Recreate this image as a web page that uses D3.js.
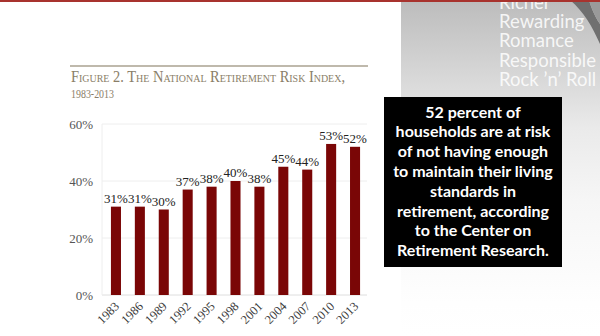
<!DOCTYPE html>
<html>
<head>
<meta charset="utf-8">
<script src="https://cdn.jsdelivr.net/npm/d3@7"></script>
<style>
  html, body { margin: 0; padding: 0; background: #fff; }
  svg { display: block; }
</style>
</head>
<body>
<svg id="slide" width="600" height="336"></svg>
<script>
// Survey years and share of households at risk (National Retirement Risk Index)
const years = ["1983", "1986", "1989", "1992", "1995", "1998", "2001", "2004", "2007", "2010", "2013"];
const riskShare = [0.31, 0.31, 0.30, 0.37, 0.38, 0.40, 0.38, 0.45, 0.44, 0.53, 0.52];
const yTicks = [0, 0.2, 0.4, 0.6];

const titleLines = ["Figure 2. The National Retirement Risk Index,", "1983-2013"];
const panelWords = ["Richer", "Rewarding", "Romance", "Responsible", "Rock \u2019n\u2019 Roll"];
const calloutLines = [
  "52 percent of",
  "households are at risk",
  "of not having enough",
  "to maintain their living",
  "standards in",
  "retirement, according",
  "to the Center on",
  "Retirement Research."
];

const svg = d3.select("#slide");
const defs = svg.append("defs");

// Grey panel on the right that fades to white
const fade = defs.append("linearGradient")
  .attr("id", "panelFade").attr("x1", 0).attr("y1", 0).attr("x2", 0).attr("y2", 1);
[[0, "#bcbcbc"], [0.2, "#d4d4d4"], [0.38, "#eaeaea"], [0.6, "#f6f6f6"], [0.9, "#fefefe"], [1, "#ffffff"]]
  .forEach(([o, c]) => fade.append("stop").attr("offset", o).attr("stop-color", c));

svg.append("rect").attr("x", 401).attr("y", 0).attr("width", 199).attr("height", 336)
  .attr("fill", "url(#panelFade)");

// Dark ribbon curling in at the top-right corner
svg.append("path")
  .attr("d", "M570,0 C584,12 592,26 600,44 L600,24 C594,15 591,7 589,0 Z")
  .attr("fill", "#707070");
svg.append("path")
  .attr("d", "M589,0 C591,7 594,15 600,24 L600,0 Z")
  .attr("fill", "#9a9a9a");

// Faint word list on the panel
svg.append("g")
  .selectAll("text")
  .data(panelWords)
  .join("text")
  .attr("x", 499)
  .attr("y", (d, i) => 8.5 + i * 19.4)
  .attr("font-family", "Lato, 'Open Sans', sans-serif")
  .attr("font-size", 18.5)
  .attr("fill", "#ffffff")
  .attr("fill-opacity", 0.85)
  .text(d => d);

// Red rule across the top edge
svg.append("rect").attr("x", 0).attr("y", 0).attr("width", 600).attr("height", 2)
  .attr("fill", "#a8332e");

// Figure heading
svg.append("line")
  .attr("x1", 70).attr("x2", 368).attr("y1", 66).attr("y2", 66)
  .attr("stroke", "#aaa290").attr("stroke-width", 1.6);

svg.append("text")
  .attr("x", 71).attr("y", 82)
  .attr("font-family", "'Liberation Serif', 'DejaVu Serif', serif")
  .attr("font-size", 16)
  .attr("textLength", 274)
  .attr("lengthAdjust", "spacingAndGlyphs")
  .style("font-variant", "small-caps")
  .attr("fill", "#8a7e68")
  .text(titleLines[0]);
svg.append("text")
  .attr("x", 71).attr("y", 97.5)
  .attr("font-family", "'Liberation Serif', 'DejaVu Serif', serif")
  .attr("font-size", 13.5)
  .attr("textLength", 43)
  .attr("lengthAdjust", "spacingAndGlyphs")
  .attr("fill", "#8a7e68")
  .text(titleLines[1]);

// Chart scales
const x = d3.scaleBand().domain(years).range([104, 367]).paddingInner(0.58).paddingOuter(0.29);
const y = d3.scaleLinear().domain([0, 0.6]).range([295, 124]);

const chart = svg.append("g");

// Gridlines
chart.append("g")
  .selectAll("line")
  .data(yTicks)
  .join("line")
  .attr("x1", 102).attr("x2", 367)
  .attr("y1", d => y(d)).attr("y2", d => y(d))
  .attr("stroke", d => d === 0 ? "#dedede" : "#eeeeee")
  .attr("stroke-width", 1);
chart.append("line")
  .attr("x1", 102).attr("x2", 102).attr("y1", y(0.6)).attr("y2", y(0))
  .attr("stroke", "#eeeeee");

// Y axis labels
const yAxis = chart.append("g")
  .attr("transform", "translate(102,0)")
  .call(d3.axisLeft(y).tickValues(yTicks).tickFormat(d3.format(".0%")).tickSize(0).tickPadding(9));
yAxis.select(".domain").remove();
yAxis.selectAll("text")
  .attr("font-family", "'Liberation Serif', 'DejaVu Serif', serif")
  .attr("font-size", 13)
  .attr("fill", "#555");

// X axis labels, slanted
const xAxis = chart.append("g")
  .attr("transform", `translate(0,${y(0)})`)
  .call(d3.axisBottom(x).tickSize(0));
xAxis.select(".domain").remove();
xAxis.selectAll("text")
  .attr("font-family", "'Liberation Serif', 'DejaVu Serif', serif")
  .attr("font-size", 12.5)
  .attr("fill", "#3a3a3a")
  .attr("text-anchor", "end")
  .attr("dy", null)
  .attr("y", 0)
  .attr("transform", "translate(4,12) rotate(-45)");

// Bars
const rows = years.map((yr, i) => ({ yr, v: riskShare[i] }));
chart.append("g")
  .selectAll("rect")
  .data(rows)
  .join("rect")
  .attr("x", d => x(d.yr))
  .attr("width", x.bandwidth())
  .attr("y", d => y(d.v))
  .attr("height", d => y(0) - y(d.v))
  .attr("fill", "#7a0606");

// Value labels
chart.append("g")
  .selectAll("text")
  .data(rows)
  .join("text")
  .attr("x", d => x(d.yr) + x.bandwidth() / 2)
  .attr("y", d => y(d.v) - 4)
  .attr("text-anchor", "middle")
  .attr("font-family", "'Liberation Serif', 'DejaVu Serif', serif")
  .attr("font-size", 13)
  .attr("fill", "#222")
  .text(d => d3.format(".0%")(d.v));

// Callout box
svg.append("rect").attr("x", 384).attr("y", 97).attr("width", 178).attr("height", 170)
  .attr("fill", "#000");
svg.append("g")
  .selectAll("text")
  .data(calloutLines)
  .join("text")
  .attr("x", 473)
  .attr("y", (d, i) => 117.5 + i * 19.8)
  .attr("text-anchor", "middle")
  .attr("font-family", "Lato, 'Open Sans', sans-serif")
  .attr("font-weight", 700)
  .attr("font-size", 16)
  .attr("fill", "#fff")
  .text(d => d);
</script>
</body>
</html>
